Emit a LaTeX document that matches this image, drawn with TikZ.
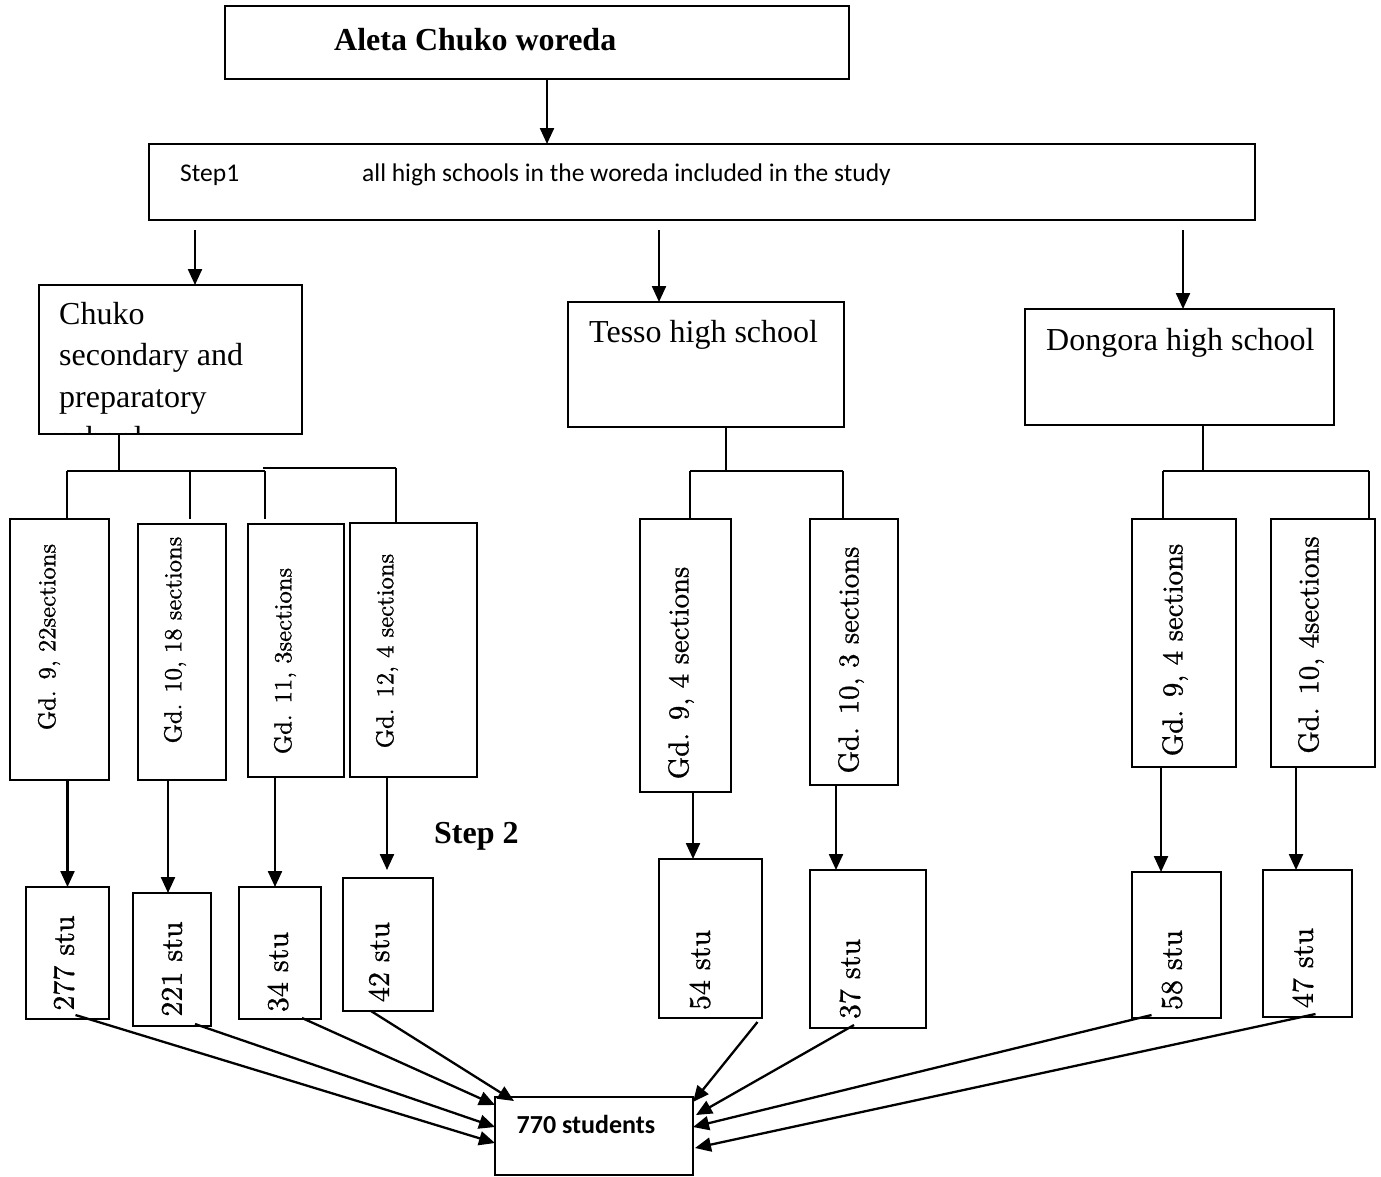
\documentclass[tikz,border=0pt]{standalone}
\usepackage{fontspec}
\newfontfamily\calfont{Carlito}
\newfontfamily\serfont{Liberation Serif}
\newfontfamily\lmfont{lmroman10-regular.otf}[FakeBold=1]
\usetikzlibrary{arrows.meta}
\begin{document}
\begin{tikzpicture}[x=1pt,y=-1pt,
  bx/.style 2 args={draw, line width=1.8pt, minimum width=#1, minimum height=#2, inner sep=0pt, outer sep=0pt},
  ln/.style={line width=2.3pt},
  arr/.style={line width=2.3pt, -{Triangle[length=16pt,width=14pt]}},
  tx/.style={inner sep=0pt, anchor=base west, font=\serfont\fontsize{32}{38}\selectfont},
  sm/.style={inner sep=0pt, rotate=90, font=\lmfont\fontsize{24.6}{30}\selectfont},
  lg/.style={inner sep=0pt, rotate=90, font=\lmfont\fontsize{28.7}{34}\selectfont},
  stu/.style={inner sep=0pt, rotate=90, font=\lmfont\fontsize{30}{36}\selectfont}]
\fill[white] (0,0) rectangle (1381,1176);
\useasboundingbox (0,0) rectangle (1381,1176);

% top level
\node[bx={624pt}{73pt}] (top) at (537,42.5) {};
\node[tx, font=\serfont\bfseries\fontsize{32}{38}\selectfont] (ttop) at (334,50) {Aleta Chuko woreda};
\node[bx={1106pt}{76pt}] (step1) at (702,182) {};
\node[inner sep=0pt, anchor=base west, font=\calfont\fontsize{25.5}{30}\selectfont] (st1) at (180,181) {Step1};
\node[inner sep=0pt, anchor=base west, font=\calfont\fontsize{25.5}{30}\selectfont] (st1b) at (362,181) {all high schools in the woreda included in the study};
\coordinate (ta) at ([xshift=10pt]top.south);
\draw[arr] (ta) -- (ta |- step1.north);

% schools
\node[bx={263pt}{149pt}] (chuko) at (170.5,359.5) {};
\node[tx] (c1) at (59,324) {Chuko};
\node[tx] (c2) at (59,365) {secondary and};
\node[tx] (c3) at (59,407) {preparatory};
\begin{scope}
\clip (40,286) rectangle (301,432);
\node[tx] (c4) at (59,448) {school};
\end{scope}
\node[bx={276pt}{125pt}] (tesso) at (706,364.5) {};
\node[tx] (tt) at (589,342) {Tesso high school};
\node[bx={309pt}{116pt}] (dongora) at (1179.5,367) {};
\node[tx] (dt) at (1046,350) {Dongora high school};

\coordinate (s1a) at (195,230);
\coordinate (s1b) at (659,230);
\coordinate (s1c) at (1183,230);
\draw[arr] (s1a) -- (s1a |- chuko.north);
\draw[arr] (s1b) -- (s1b |- tesso.north);
\draw[arr] (s1c) -- (s1c |- dongora.north);

% grade boxes
\node[bx={99pt}{261pt}] (cg9) at (59.5,649.5) {};
\node[bx={88pt}{256pt}] (cg10) at (182,652) {};
\node[bx={96pt}{253pt}] (cg11) at (296,650.5) {};
\node[bx={127pt}{254pt}] (cg12) at (413.5,650) {};
\node[bx={91pt}{273pt}] (tg9) at (685.5,655.5) {};
\node[bx={88pt}{266pt}] (tg10) at (854,652) {};
\node[bx={104pt}{248pt}] (dg9) at (1184,643) {};
\node[bx={104pt}{248pt}] (dg10) at (1323,643) {};

\node[sm] (lcg9) at (49,637) {Gd. 9, 22sections};
\node[sm] (lcg10) at (175,640) {Gd. 10, 18 sections};
\node[sm] (lcg11) at (285,661) {Gd. 11, 3sections};
\node[sm] (lcg12) at (387,651) {Gd. 12, 4 sections};
\node[lg] (ltg9) at (681,673) {Gd. 9, 4 sections};
\node[lg] (ltg10) at (851,660) {Gd. 10, 3 sections};
\node[lg] (ldg9) at (1175,650) {Gd. 9, 4 sections};
\node[lg] (ldg10) at (1311,645) {Gd. 10, 4sections};

% tree connectors
\coordinate (cj) at (119,471);
\coordinate (cjL) at (67,471);
\coordinate (cjR) at (265,471);
\coordinate (cd2) at (190,471);
\coordinate (cj2L) at (263,468);
\coordinate (cj2R) at (396,468);
\draw[ln] (chuko.south -| cj) -- (cj);
\draw[ln] (cjL) -- (cjR);
\draw[ln] (cjL) -- (cjL |- cg9.north);
\draw[ln] (cd2) -- ++(0,48);
\draw[ln] (cjR) -- ++(0,48);
\draw[line width=1.7pt] (cj2L) -- (cj2R);
\draw[line width=1.7pt] (cj2R) -- (cj2R |- cg12.north);

\coordinate (tj) at (726,471);
\coordinate (tjL) at (690,471);
\coordinate (tjR) at (843,471);
\draw[ln] (tesso.south -| tj) -- (tj);
\draw[ln] (tjL) -- (tjR);
\draw[ln] (tjL) -- (tjL |- tg9.north);
\draw[ln] (tjR) -- (tjR |- tg10.north);

\coordinate (dj) at (1203,471);
\coordinate (djL) at (1163,471);
\coordinate (djR) at (1369,471);
\draw[ln] (dongora.south -| dj) -- (dj);
\draw[ln] (djL) -- (djR);
\draw[ln] (djL) -- (djL |- dg9.north);
\draw[ln] (djR) -- (djR |- dg10.north);

% student boxes
\node[bx={83pt}{132pt}] (s277) at (67.5,953) {};
\node[bx={78pt}{133pt}] (s221) at (172,959.5) {};
\node[bx={82pt}{132pt}] (s34) at (280,953) {};
\node[bx={90pt}{133pt}] (s42) at (388,944.5) {};
\node[bx={103pt}{159pt}] (s54) at (710.5,938.5) {};
\node[bx={116pt}{158pt}] (s37) at (868,949) {};
\node[bx={89pt}{146pt}] (s58) at (1176.5,945) {};
\node[bx={89pt}{147pt}] (s47) at (1307.5,943.5) {};

\node[stu] (l277) at (64,963) {277 stu};
\node[stu] (l221) at (172,969) {221 stu};
\node[stu] (l34) at (278,972) {34 stu};
\node[stu] (l42) at (379,962) {42 stu};
\node[stu] (l54) at (700,970) {54 stu};
\node[stu] (l37) at (850,979) {37 stu};
\node[stu] (l58) at (1172,970) {58 stu};
\node[stu] (l47) at (1303,968) {47 stu};

% vertical arrows
\draw[arr] ([xshift=8pt]cg9.south) -- (s277.north);
\draw[arr] ([xshift=-14pt]cg10.south) -- ([xshift=-4pt]s221.north);
\draw[arr] ([xshift=-21pt]cg11.south) -- ([xshift=-5pt]s34.north);
\draw[arr] ([xshift=-26.5pt]cg12.south) -- ([xshift=-1pt,yshift=8pt]s42.north);
\draw[arr] ([xshift=7.5pt]tg9.south) -- ([xshift=-17.5pt]s54.north);
\draw[arr] ([xshift=-18pt]tg10.south) -- ([xshift=-32pt]s37.north);
\draw[arr] ([xshift=-23pt]dg9.south) -- ([xshift=-15.5pt]s58.north);
\draw[arr] ([xshift=-27pt]dg10.south) -- ([xshift=-11.5pt]s47.north);

\node[tx, font=\serfont\bfseries\fontsize{32}{38}\selectfont] (step2) at (434,843) {Step 2};

% total
\node[bx={198pt}{78pt}] (total) at (594,1136) {};
\node[inner sep=0pt, font=\calfont\bfseries\fontsize{26}{30}\selectfont] (t770) at (586,1124) {770 students};

\draw[arr] ([xshift=8pt,yshift=4pt]s277.south) -- ([yshift=-7pt]total.west);
\draw[arr] ([xshift=23pt,yshift=2pt]s221.south) -- ([yshift=9pt]total.west);
\draw[arr] ([xshift=22pt,yshift=1pt]s34.south) -- ([yshift=31pt]total.west);
\draw[arr] ([xshift=-17pt]s42.south) -- ([xshift=-80pt,yshift=-4pt]total.north);
\draw[arr] ([xshift=47pt,yshift=-4pt]s54.south) -- ([yshift=34pt]total.east);
\draw[arr] ([xshift=-14pt,yshift=3pt]s37.south) -- ([xshift=3pt,yshift=21pt]total.east);
\draw[arr] ([xshift=-25pt,yshift=3pt]s58.south) -- ([yshift=9pt]total.east);
\draw[arr] ([xshift=8pt,yshift=3pt]s47.south) -- ([xshift=2pt,yshift=-12pt]total.east);
\end{tikzpicture}
\end{document}
